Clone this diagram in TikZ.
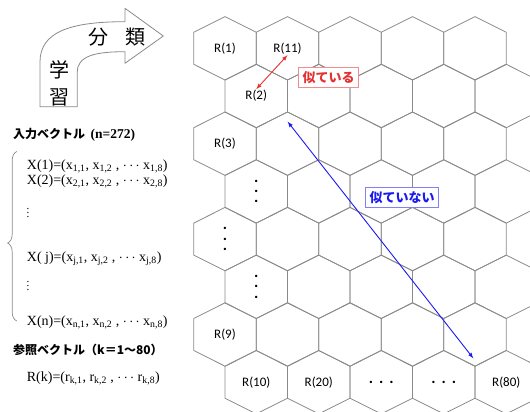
\documentclass[tikz,border=0pt]{standalone}
\usepackage{fontspec}
\setmainfont{Liberation Serif}
\newfontfamily\jpfont{Noto Sans CJK JP}
\newfontfamily\hexfont{Carlito}
\usetikzlibrary{arrows,decorations.pathreplacing}
\definecolor{hexgray}{HTML}{8A8A8A}
\definecolor{simred}{HTML}{E53030}
\definecolor{simblue}{HTML}{1A1AF0}
\newcommand{\hw}{31.25}
\newcommand{\sub}[1]{\textsubscript{#1}}

\begin{document}
\begin{tikzpicture}[x=1pt, y=-1pt,
  hexline/.style={draw=hexgray, line width=0.8pt, line join=round},
  hexlabel/.style={font=\hexfont\fontsize{13}{13}\selectfont, inner sep=1pt},
  hexdots/.style={font=\hexfont\bfseries\fontsize{16}{10.2}\selectfont, align=center, inner sep=0pt},
  vecline/.style={anchor=base west, font=\fontsize{14}{16}\selectfont, inner sep=0pt},
  vdotsline/.style={font=\fontsize{11}{11}\selectfont, inner sep=0pt},
  jptitle/.style={anchor=base west, font=\jpfont\bfseries\fontsize{12}{14}\selectfont, inner sep=0pt},
  bigchar/.style={font=\jpfont\fontsize{20}{20}\selectfont, inner sep=0pt},
  simbox/.style={draw=#1!55, text=#1, fill=white, line width=0.8pt, inner sep=4pt,
    font=\jpfont\bfseries\fontsize{13}{13}\selectfont}]
\useasboundingbox (0,0) rectangle (530,412);

% Hexagonal map of reference vectors (odd rows shifted left)
\begin{scope}
\clip (0,0) rectangle (530,412);
\foreach \r in {1,...,8}{
  \foreach \c in {0,...,4}{
    \pgfmathsetmacro{\hx}{(mod(\r,2)==1 ? 225 : 256.25) + 62.5*\c}
    \pgfmathsetmacro{\hy}{48.3 + 47.7*(\r-1)}
    \coordinate (h-\r-\c) at (\hx,\hy);
    \path[hexline] (h-\r-\c) +(0,-31.7) -- +(\hw,-16) -- +(\hw,16) -- +(0,31.7)
      -- +(-\hw,16) -- +(-\hw,-16) -- cycle;
  }
}
\end{scope}

% Labels inside the cells
\node[hexlabel] (r1)  at (h-1-0) {R(1)};
\node[hexlabel] (r11) at (h-1-1) {R(11)};
\node[hexlabel] (r2)  at (h-2-0) {R(2)};
\node[hexlabel] (r3)  at (h-3-0) {R(3)};
\node[hexdots]  (d4)  at (h-4-0) {.\\.\\.};
\node[hexdots]  (d5)  at (h-5-0) {.\\.\\.};
\node[hexdots]  (d6)  at (h-6-0) {.\\.\\.};
\node[hexlabel] (r9)  at (h-7-0) {R(9)};
\node[hexlabel] (r10) at (h-8-0) {R(10)};
\node[hexlabel] (r20) at (h-8-1) {R(20)};
\node[hexdots]  (d82) at (h-8-2) {.\hspace{6pt}.\hspace{6pt}.};
\node[hexdots]  (d83) at (h-8-3) {.\hspace{6pt}.\hspace{6pt}.};
\node[hexlabel] (r80) at (h-8-4) {R(80)};

% Similar neighbours
\draw[simred, line width=0.9pt, latex-latex] (r2.north) -- (r11.south);
\node[simbox=simred] (similar) at (328.5,77.5) {似ている};

% Distant cells
\coordinate (far-a) at (287.7,121.7);
\coordinate (far-b) at (473.3,358.3);
\draw[simblue, line width=0.9pt, latex-latex] (far-a) -- (far-b);
\node[simbox=simblue] (notsimilar) at (402,197.5) {似ていない};

% Bent arrow: learning -> classification
\path[hexline] (40,106.7) -- (40,62) .. controls (40,32) and (70,21.7) .. (125,21.7)
  -- (125,8.3) -- (163.3,36) -- (125,63.3) -- (125,51.7)
  .. controls (95,51.7) and (77.3,56) .. (77.3,72) -- (77.3,106.7) -- cycle;
\node[bigchar] (bun)  at (98.7,37.5) {分};
\node[bigchar] (rui)  at (135.7,37.5) {類};
\node[bigchar] (gaku) at (59,70) {学};
\node[bigchar] (shu)  at (59,97) {習};

% Input vectors
\node[jptitle] (intitle) at (13,138) {入力ベクトル\ \ {\rmfamily\fontsize{13.5}{14}\selectfont(n=272)}};
\node[vecline] (x1) at (26.7,169.3) {X(1)=(x\sub{1,1}, x\sub{1,2} , $\cdots$ x\sub{1,8})};
\node[vecline] (x2) at (26.7,184) {X(2)=(x\sub{2,1}, x\sub{2,2} , $\cdots$ x\sub{2,8})};
\node[vdotsline] (v1) at (28,210) {$\vdots$};
\node[vecline] (xj) at (26.7,261.7) {X( j)=(x\sub{j,1}, x\sub{j,2} , $\cdots$ x\sub{j,8})};
\node[vdotsline] (v2) at (28,283.3) {$\vdots$};
\node[vecline] (xn) at (26.7,325) {X(n)=(x\sub{n,1}, x\sub{n,2} , $\cdots$ x\sub{n,8})};
\coordinate (brace-bot) at (16.7,321);
\coordinate (brace-top) at (16.7,151.5);
\draw[hexgray, line width=0.7pt, decorate, decoration={brace, amplitude=9pt, aspect=0.46}]
  (brace-bot) -- (brace-top);

% Reference vectors
\node[jptitle] (reftitle) at (13,354) {参照ベクトル（k＝1〜80）};
\node[vecline] (rk) at (26.7,381.7) {R(k)=(r\sub{k,1}, r\sub{k,2} , $\cdots$ r\sub{k,8})};
\end{tikzpicture}
\end{document}
